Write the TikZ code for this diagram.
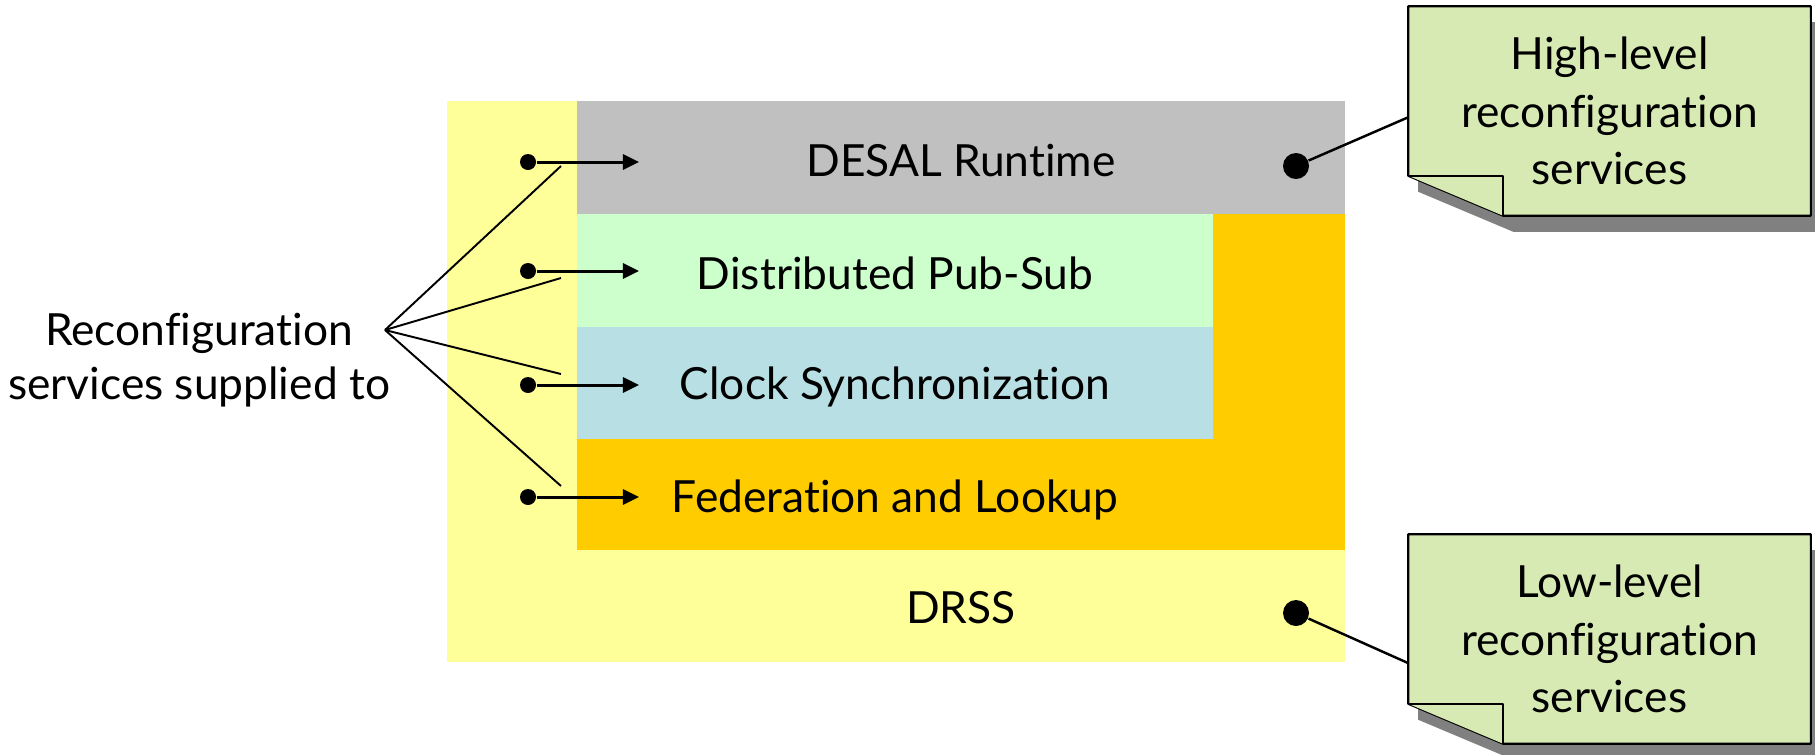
\documentclass[tikz,border=0pt]{standalone}
\usepackage{fontspec}
\setmainfont{Lato}[Ligatures=NoCommon]
\usepackage{tikz}
\usetikzlibrary{positioning,arrows.meta,backgrounds,calc}

\definecolor{drssyellow}{RGB}{255,255,153}
\definecolor{desalgray}{RGB}{192,192,192}
\definecolor{pubsubgreen}{RGB}{204,255,204}
\definecolor{clockblue}{RGB}{184,223,227}
\definecolor{fedorange}{RGB}{255,204,0}
\definecolor{notegreen}{RGB}{216,234,180}
\definecolor{shadowgray}{RGB}{128,128,128}

\begin{document}
\begin{tikzpicture}[
  x=0.01cm, y=-0.01cm,
  layertext/.style={anchor=base, font=\fontsize{12.6}{15}\selectfont},
  dot/.style={circle, fill=black, inner sep=0pt, minimum size=0.16cm},
  bigdot/.style={circle, fill=black, inner sep=0pt, minimum size=0.26cm},
  feed/.style={line width=0.85pt, -{Triangle[length=0.16cm, width=0.15cm]}},
  fanline/.style={line width=0.55pt},
  callout/.style={line width=0.7pt},
  notetext/.style={minimum width=4.01cm, minimum height=2.08cm, inner sep=0pt, align=center, font=\fontsize{12.6}{16.3}\selectfont},
  notebox/.style={fill=notegreen, draw=black, line width=0.6pt, line join=round},
]

\useasboundingbox (0,0) rectangle (1815,754);

% Layers
\fill[drssyellow] (447,101) rectangle (1345,662);
\fill[fedorange] (577,101) rectangle (1345,550);
\fill[desalgray] (577,101) rectangle (1345,214);
\fill[pubsubgreen] (577,214) rectangle (1213,327);
\fill[clockblue] (577,327) rectangle (1213,439);

\node[layertext] (desal) at (961,176) {DESAL Runtime};
\node[layertext] (pubsub) at (895,289) {Distributed Pub-Sub};
\node[layertext] (clock) at (895,399) {Clock Synchronization};
\node[layertext] (fedlook) at (895,512) {Federation and Lookup};
\node[layertext] (drss) at (961,623) {DRSS};

% Services fed into each layer
\foreach \i/\y in {1/162, 2/271, 3/385, 4/497} {
  \node[dot] (d\i) at (528,\y) {};
  \coordinate (a\i) at (639,\y);
  \draw[feed] (d\i) -- (a\i);
}

% Fan from the label
\node[align=center, font=\fontsize{12.6}{15.5}\selectfont] (supplied) at (199,360) {Reconfiguration\\services supplied to};
\coordinate (fan) at (385,330);
\foreach \i/\y in {1/166, 2/278, 3/374, 4/486} {
  \coordinate (f\i) at (561,\y);
  \draw[fanline] (fan) -- (f\i);
}

% Notes
\node[notetext] (hinote) at (1609.5,111) {High-level\\reconfiguration\\services};
\node[notetext] (lonote) at (1609.5,639) {Low-level\\reconfiguration\\services};

\begin{scope}[on background layer]
\foreach \n in {hinote,lonote} {
  \fill[shadowgray] ([shift={(10,16)}]\n.north west) -- ([shift={(10,16)}]\n.north east)
    -- ([shift={(10,16)}]\n.south east) -- ([shift={(105,16)}]\n.south west)
    -- ([shift={(10,-24)}]\n.south west) -- cycle;
  \path[notebox] (\n.north west) -- (\n.north east) -- (\n.south east)
    -- ([shift={(95,0)}]\n.south west) -- ([shift={(0,-40)}]\n.south west) -- cycle;
  \draw[notebox] ([shift={(0,-40)}]\n.south west) -- ([shift={(95,-40)}]\n.south west)
    -- ([shift={(95,0)}]\n.south west);
}
\end{scope}

\node[bigdot] (hidot) at (1296,166) {};
\node[bigdot] (lodot) at (1296,613) {};
\draw[callout] (hidot) -- ($(hinote.north west)!0.53!(hinote.south west)$);
\draw[callout] (lodot) -- ($(lonote.north west)!0.615!(lonote.south west)$);

\end{tikzpicture}
\end{document}
